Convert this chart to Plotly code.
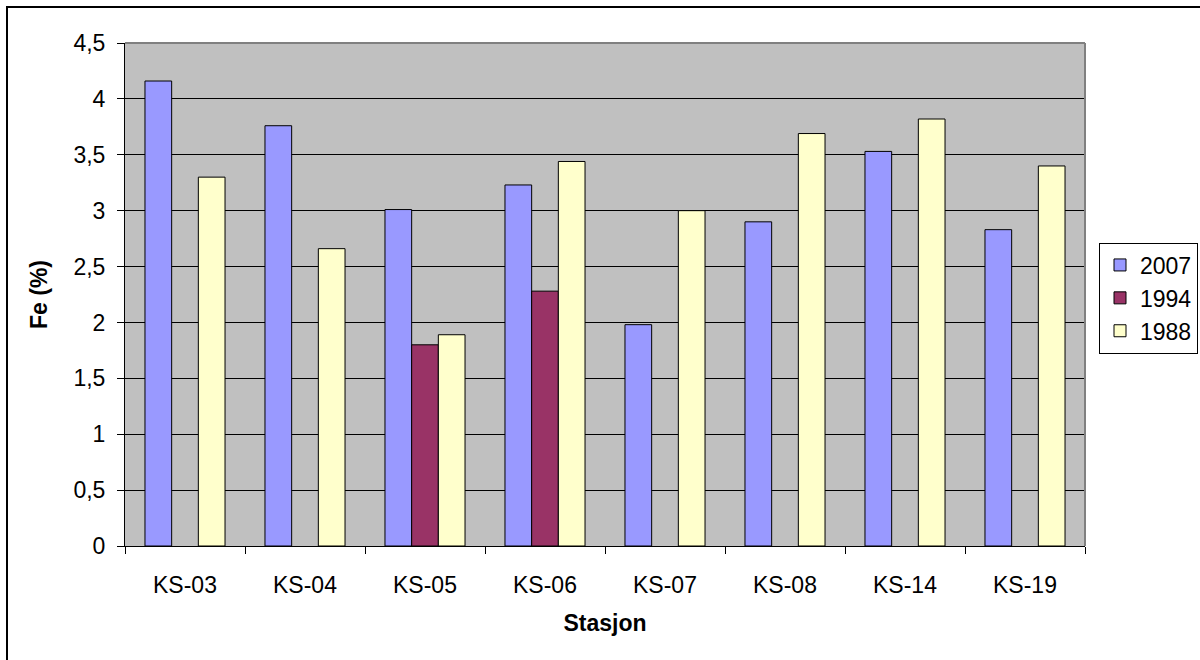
import plotly.graph_objects as go

categories = ["KS-03", "KS-04", "KS-05", "KS-06", "KS-07", "KS-08", "KS-14", "KS-19"]
fe_2007 = [4.16, 3.76, 3.01, 3.23, 1.98, 2.90, 3.53, 2.83]
fe_1994 = [None, None, 1.80, 2.28, None, None, None, None]
fe_1988 = [3.30, 2.66, 1.89, 3.44, 3.00, 3.69, 3.82, 3.40]
series_names = ["2007", "1994", "1988"]
series_colors = ["#9999FF", "#993366", "#FFFFCC"]
y_tickvals = [0, 0.5, 1, 1.5, 2, 2.5, 3, 3.5, 4, 4.5]
y_ticktext = ["0", "0,5", "1", "1,5", "2", "2,5", "3", "3,5", "4", "4,5"]

FONT = "Liberation Sans, Arial, sans-serif"
FS = 23

fig = go.Figure()
for name, vals, col in zip(series_names, [fe_2007, fe_1994, fe_1988], series_colors):
    fig.add_trace(go.Bar(
        x=categories, y=vals, name=name,
        marker=dict(color=col, line=dict(color="black", width=1)),
    ))

fig.update_layout(
    width=1200, height=660,
    margin=dict(l=125, r=115, t=43, b=114),
    paper_bgcolor="white",
    plot_bgcolor="#C0C0C0",
    barmode="group",
    bargap=0.333,
    bargroupgap=0,
    font=dict(family=FONT, size=FS, color="black"),
    showlegend=True,
    legend=dict(
        xref="container", yref="container",
        x=1099 / 1200, xanchor="left", y=1 - 298 / 660, yanchor="middle",
        bgcolor="white", bordercolor="black", borderwidth=1,
        font=dict(family=FONT, size=FS, color="black"),
        itemwidth=30,
    ),
    xaxis=dict(
        showgrid=False, showline=True, linecolor="black", linewidth=1,
        ticks="outside", ticklen=7, tickcolor="black", tickson="boundaries",
        tickfont=dict(size=FS), ticklabelstandoff=18,
        title=dict(text="<b>Stasjon</b>", font=dict(size=FS), standoff=18),
        automargin=False,
    ),
    yaxis=dict(
        range=[0, 4.5], tickvals=y_tickvals, ticktext=y_ticktext,
        showgrid=True, gridcolor="black", gridwidth=1,
        showline=True, linecolor="black", linewidth=1,
        ticks="outside", ticklen=7, tickcolor="black",
        tickfont=dict(size=FS), ticklabelstandoff=7,
        title=dict(text="<b>Fe (%)</b>", font=dict(size=FS), standoff=19),
        zeroline=False,
        automargin=False,
    ),
    shapes=[
        dict(type="line", xref="paper", yref="paper", x0=0, x1=1, y0=1, y1=1,
             line=dict(color="#808080", width=2)),
        dict(type="line", xref="paper", yref="paper", x0=1, x1=1, y0=0, y1=1,
             line=dict(color="#808080", width=2)),
        dict(type="rect", xref="paper", yref="paper",
             x0=(7 - 125) / 960, x1=(1215 - 125) / 960,
             y0=(546 - 675) / 503, y1=(546 - 7) / 503,
             line=dict(color="black", width=2), fillcolor="rgba(0,0,0,0)", layer="below"),
    ],
)

fig.write_html(
    "out.html",
    config={"displayModeBar": False},
    post_script="document.body.style.margin='0';document.body.style.overflow='hidden';",
)
